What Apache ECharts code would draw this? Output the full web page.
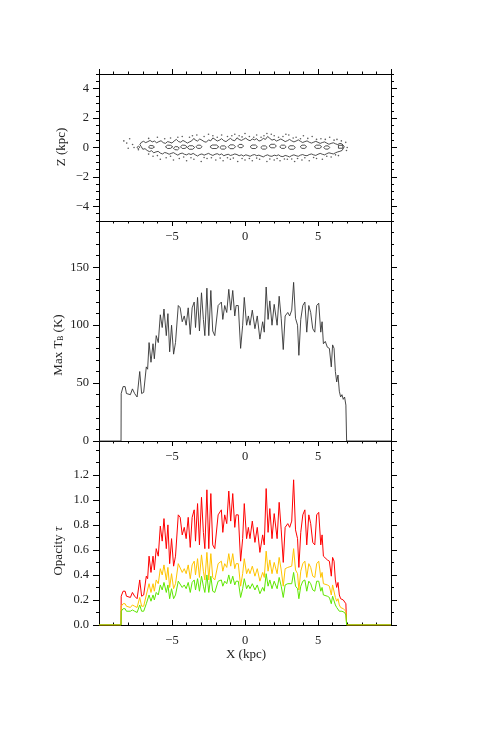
<!DOCTYPE html>
<html>
<head>
<meta charset="utf-8">
<script src="https://cdn.jsdelivr.net/npm/echarts@6/dist/echarts.min.js"></script>
<style>
html,body{margin:0;padding:0;background:#fff;}
#chart{width:491px;height:736px;}
</style>
</head>
<body>
<div id="chart"></div>
<script>
// ---------------- data ----------------
const xKpc = [-10,-8.49,-8.48,-8.35,-8.21,-8.12,-7.99,-7.85,-7.71,-7.56,-7.39,-7.21,-7.08,-6.94,-6.76,-6.67,-6.57,-6.44,-6.30,-6.21,-6.08,-5.94,-5.80,-5.67,-5.55,-5.39,-5.28,-5.16,-5.03,-4.89,-4.76,-4.57,-4.44,-4.30,-4.16,-4.03,-3.89,-3.75,-3.62,-3.48,-3.39,-3.25,-3.12,-2.98,-2.85,-2.75,-2.61,-2.48,-2.34,-2.21,-2.07,-1.98,-1.84,-1.71,-1.62,-1.52,-1.39,-1.25,-1.11,-0.98,-0.84,-0.70,-0.61,-0.46,-0.30,-0.16,-0.05,0.11,0.23,0.34,0.50,0.68,0.84,1.02,1.21,1.32,1.45,1.58,1.70,1.85,2.00,2.20,2.34,2.48,2.62,2.75,2.93,3.06,3.20,3.33,3.46,3.60,3.69,3.82,3.96,4.10,4.23,4.37,4.50,4.64,4.78,4.91,5.05,5.19,5.28,5.37,5.50,5.64,5.78,5.91,6.00,6.10,6.19,6.28,6.37,6.46,6.55,6.64,6.73,6.82,6.91,6.96,10];
const maxTB = [0,0,41,47,47,41,42,40,45,41,38,60,41,42,64,62,85,68,84,71,91,85,109,98,114,91,110,77,100,75,85,117,115,103,108,100,115,92,115,120,98,124,95,128,105,91,132,91,130,95,91,90,117,116,120,105,117,111,131,113,130,108,117,117,80,100,124,100,108,100,113,97,108,88,103,94,133,105,121,100,118,100,125,106,79,108,111,108,113,137,106,100,74,105,117,120,94,117,111,97,94,117,119,94,103,84,86,81,80,64,83,80,60,51,57,43,38,40,36,38,31,0,0];
const tauRed = [0,0,0.23,0.27,0.27,0.23,0.24,0.22,0.26,0.23,0.21,0.36,0.23,0.24,0.39,0.37,0.55,0.42,0.55,0.44,0.61,0.55,0.79,0.67,0.85,0.61,0.80,0.49,0.69,0.47,0.55,0.88,0.86,0.72,0.78,0.69,0.86,0.62,0.86,0.92,0.67,0.97,0.64,1.02,0.74,0.61,1.08,0.61,1.05,0.64,0.61,0.60,0.88,0.87,0.92,0.74,0.88,0.81,1.07,0.83,1.05,0.78,0.88,0.88,0.51,0.69,0.97,0.69,0.78,0.69,0.83,0.66,0.78,0.58,0.72,0.64,1.09,0.74,0.93,0.69,0.89,0.69,0.98,0.76,0.50,0.78,0.81,0.78,0.83,1.16,0.76,0.69,0.46,0.74,0.88,0.92,0.64,0.88,0.81,0.66,0.64,0.88,0.90,0.64,0.72,0.55,0.56,0.52,0.51,0.39,0.54,0.51,0.36,0.30,0.34,0.24,0.21,0.22,0.20,0.21,0.17,0,0];
const tauOrange = [0,0,0.15,0.17,0.17,0.15,0.15,0.14,0.16,0.15,0.14,0.22,0.15,0.15,0.24,0.23,0.33,0.26,0.33,0.27,0.36,0.33,0.45,0.40,0.48,0.36,0.46,0.30,0.41,0.29,0.33,0.49,0.48,0.42,0.45,0.41,0.48,0.37,0.48,0.51,0.40,0.53,0.38,0.56,0.43,0.36,0.58,0.36,0.57,0.38,0.36,0.36,0.49,0.49,0.51,0.43,0.49,0.46,0.57,0.47,0.57,0.45,0.49,0.49,0.31,0.41,0.53,0.41,0.45,0.41,0.47,0.39,0.45,0.35,0.42,0.38,0.59,0.43,0.52,0.41,0.50,0.41,0.54,0.44,0.31,0.45,0.46,0.45,0.47,0.61,0.44,0.41,0.28,0.43,0.49,0.51,0.38,0.49,0.46,0.39,0.38,0.49,0.51,0.38,0.42,0.33,0.34,0.32,0.31,0.24,0.32,0.31,0.22,0.19,0.21,0.16,0.14,0.14,0.13,0.14,0.11,0,0];
const tauGreen = [0,0,0.11,0.13,0.13,0.11,0.11,0.11,0.12,0.11,0.10,0.16,0.11,0.11,0.17,0.17,0.24,0.19,0.24,0.20,0.26,0.24,0.32,0.28,0.34,0.26,0.32,0.21,0.29,0.21,0.24,0.35,0.34,0.30,0.32,0.29,0.34,0.26,0.34,0.36,0.28,0.37,0.27,0.39,0.31,0.26,0.40,0.26,0.39,0.27,0.26,0.26,0.35,0.34,0.36,0.31,0.35,0.33,0.40,0.33,0.39,0.32,0.35,0.35,0.22,0.29,0.37,0.29,0.32,0.29,0.33,0.28,0.32,0.25,0.30,0.27,0.41,0.31,0.36,0.29,0.35,0.29,0.38,0.31,0.22,0.32,0.33,0.32,0.33,0.42,0.31,0.29,0.21,0.31,0.35,0.36,0.27,0.35,0.33,0.28,0.27,0.35,0.35,0.27,0.30,0.24,0.24,0.23,0.22,0.17,0.23,0.22,0.16,0.14,0.15,0.11,0.10,0.11,0.10,0.10,0.08,0,0];

// contour of the disk in the X-Z plane (kpc)
const upperEdge = [[-7.1,0.05],[-7.2,0.2],[-7.1,0.35],[-6.95,0.42],[-6.8,0.33],[-6.65,0.4],[-6.5,0.48],[-6.35,0.38],[-6.2,0.44],[-6.05,0.32],[-5.9,0.4],[-5.75,0.46],[-5.6,0.33],[-5.45,0.28],[-5.3,0.4],[-5.15,0.36],[-5.0,0.3],[-4.85,0.45],[-4.7,0.55],[-4.55,0.4],[-4.4,0.36],[-4.25,0.48],[-4.1,0.4],[-3.95,0.3],[-3.8,0.38],[-3.65,0.45],[-3.5,0.62],[-3.4,0.5],[-3.25,0.44],[-3.1,0.58],[-2.95,0.5],[-2.8,0.4],[-2.65,0.36],[-2.5,0.52],[-2.35,0.45],[-2.2,0.65],[-2.05,0.55],[-1.9,0.44],[-1.75,0.5],[-1.6,0.6],[-1.45,0.46],[-1.3,0.4],[-1.15,0.52],[-1.0,0.62],[-0.85,0.5],[-0.7,0.46],[-0.55,0.66],[-0.4,0.55],[-0.25,0.48],[-0.1,0.56],[0.05,0.64],[0.2,0.52],[0.35,0.46],[0.5,0.58],[0.65,0.52],[0.8,0.6],[0.95,0.44],[1.1,0.48],[1.25,0.62],[1.4,0.55],[1.55,0.75],[1.7,0.62],[1.85,0.5],[2.0,0.56],[2.15,0.44],[2.3,0.5],[2.45,0.58],[2.6,0.5],[2.75,0.4],[2.9,0.46],[3.05,0.55],[3.2,0.45],[3.35,0.38],[3.5,0.44],[3.65,0.52],[3.8,0.42],[3.95,0.34],[4.1,0.4],[4.25,0.45],[4.4,0.36],[4.55,0.3],[4.7,0.36],[4.85,0.42],[5.0,0.35],[5.15,0.28],[5.3,0.34],[5.45,0.38],[5.6,0.3],[5.75,0.22],[5.9,0.28],[6.05,0.32],[6.2,0.25],[6.35,0.2],[6.5,0.28],[6.65,0.24],[6.8,0.05]];
const lowerEdge = [[-7.1,0.05],[-7.0,-0.12],[-6.85,-0.08],[-6.7,-0.2],[-6.55,-0.28],[-6.4,-0.22],[-6.25,-0.36],[-6.1,-0.3],[-5.95,-0.26],[-5.8,-0.38],[-5.65,-0.44],[-5.5,-0.34],[-5.35,-0.38],[-5.2,-0.46],[-5.05,-0.4],[-4.9,-0.35],[-4.75,-0.44],[-4.6,-0.52],[-4.45,-0.42],[-4.3,-0.38],[-4.15,-0.46],[-4.0,-0.5],[-3.85,-0.42],[-3.7,-0.48],[-3.55,-0.4],[-3.4,-0.5],[-3.25,-0.58],[-3.1,-0.48],[-2.95,-0.44],[-2.8,-0.52],[-2.65,-0.46],[-2.5,-0.4],[-2.35,-0.48],[-2.2,-0.54],[-2.05,-0.46],[-1.9,-0.42],[-1.75,-0.5],[-1.6,-0.44],[-1.45,-0.56],[-1.3,-0.5],[-1.15,-0.46],[-1.0,-0.54],[-0.85,-0.5],[-0.7,-0.44],[-0.55,-0.48],[-0.4,-0.56],[-0.25,-0.5],[-0.1,-0.58],[0.05,-0.5],[0.2,-0.54],[0.35,-0.6],[0.5,-0.52],[0.65,-0.48],[0.8,-0.56],[0.95,-0.52],[1.1,-0.58],[1.25,-0.64],[1.4,-0.55],[1.55,-0.5],[1.7,-0.58],[1.85,-0.6],[2.0,-0.52],[2.15,-0.56],[2.3,-0.5],[2.45,-0.6],[2.6,-0.62],[2.75,-0.54],[2.9,-0.58],[3.05,-0.64],[3.2,-0.55],[3.35,-0.5],[3.5,-0.56],[3.65,-0.6],[3.8,-0.52],[3.95,-0.48],[4.1,-0.54],[4.25,-0.56],[4.4,-0.48],[4.55,-0.44],[4.7,-0.5],[4.85,-0.54],[5.0,-0.46],[5.15,-0.4],[5.3,-0.46],[5.45,-0.5],[5.6,-0.42],[5.75,-0.36],[5.9,-0.4],[6.05,-0.44],[6.2,-0.36],[6.35,-0.3],[6.5,-0.26],[6.65,-0.2],[6.8,0.05]];
const innerLoops = [
 [[-7.4,0.0],[-7.3,0.1],[-7.2,0.02],[-7.3,-0.08],[-7.4,0.0]],
 [[-6.6,0.05],[-6.5,0.14],[-6.3,0.12],[-6.2,0.03],[-6.35,-0.06],[-6.55,-0.04],[-6.6,0.05]],
 [[-5.45,0.05],[-5.3,0.16],[-5.1,0.15],[-4.95,0.05],[-5.1,-0.06],[-5.3,-0.07],[-5.45,0.05]],
 [[-4.9,-0.05],[-4.78,0.06],[-4.6,0.05],[-4.5,-0.05],[-4.62,-0.16],[-4.8,-0.15],[-4.9,-0.05]],
 [[-4.42,0.05],[-4.3,0.16],[-4.1,0.15],[-3.98,0.05],[-4.1,-0.06],[-4.3,-0.07],[-4.42,0.05]],
 [[-3.95,0],[-3.82,0.12],[-3.58,0.12],[-3.45,0],[-3.58,-0.12],[-3.82,-0.12],[-3.95,0]],
 [[-3.35,0.05],[-3.25,0.16],[-3.05,0.16],[-2.95,0.05],[-3.05,-0.06],[-3.25,-0.06],[-3.35,0.05]],
 [[-2.4,0.05],[-2.25,0.17],[-1.95,0.17],[-1.8,0.05],[-1.95,-0.07],[-2.25,-0.07],[-2.4,0.05]],
 [[-1.72,0],[-1.6,0.11],[-1.4,0.11],[-1.28,0],[-1.4,-0.11],[-1.6,-0.11],[-1.72,0]],
 [[-1.15,0.05],[-1.02,0.18],[-0.78,0.18],[-0.65,0.05],[-0.78,-0.08],[-1.02,-0.08],[-1.15,0.05]],
 [[-0.5,0.1],[-0.4,0.21],[-0.2,0.21],[-0.1,0.1],[-0.2,-0.01],[-0.4,-0.01],[-0.5,0.1]],
 [[0.35,0.05],[0.48,0.17],[0.72,0.17],[0.85,0.05],[0.72,-0.07],[0.48,-0.07],[0.35,0.05]],
 [[1.08,0],[1.2,0.11],[1.4,0.11],[1.52,0],[1.4,-0.11],[1.2,-0.11],[1.08,0]],
 [[1.65,0.1],[1.78,0.22],[2.02,0.22],[2.15,0.1],[2.02,-0.02],[1.78,-0.02],[1.65,0.1]],
 [[2.38,0.05],[2.5,0.16],[2.7,0.16],[2.82,0.05],[2.7,-0.06],[2.5,-0.06],[2.38,0.05]],
 [[2.95,0],[3.08,0.12],[3.32,0.12],[3.45,0],[3.32,-0.12],[3.08,-0.12],[2.95,0]],
 [[3.78,0.05],[3.9,0.16],[4.1,0.16],[4.22,0.05],[4.1,-0.06],[3.9,-0.06],[3.78,0.05]],
 [[4.75,0.05],[4.88,0.16],[5.12,0.16],[5.25,0.05],[5.12,-0.06],[4.88,-0.06],[4.75,0.05]],
 [[5.4,0],[5.5,0.11],[5.7,0.11],[5.8,0],[5.7,-0.11],[5.5,-0.11],[5.4,0]],
 [[6.4,-0.05],[6.4,0.15],[6.7,0.15],[6.7,-0.05],[6.4,-0.05]]
];
const sparseDots = [[-8.3,0.45],[-8.1,0.3],[-7.9,0.6],[-7.7,0.2],[-6.6,0.62],[-6.0,0.7],[-5.5,0.6],[-5.1,0.65],[-4.6,0.7],[-4.3,0.75],[-3.8,0.7],[-3.6,0.8],[-3.3,0.85],[-2.8,0.75],[-2.5,0.9],[-2.2,0.8],[-1.9,0.7],[-1.6,0.85],[-1.2,0.75],[-0.9,0.8],[-0.7,0.9],[-0.4,0.8],[-0.2,0.72],[0.0,0.95],[0.3,0.75],[0.6,0.7],[0.8,0.85],[1.1,0.7],[1.3,0.8],[1.5,0.95],[1.8,0.9],[2.0,0.8],[2.3,0.7],[2.6,0.75],[2.8,0.9],[3.0,0.85],[3.3,0.65],[3.5,0.7],[3.8,0.6],[4.0,0.8],[4.3,0.62],[4.6,0.75],[4.9,0.55],[5.2,0.6],[5.5,0.55],[5.8,0.7],[6.1,0.5],[6.3,0.55],[6.6,0.45],[6.9,0.35],[7.0,0.0],[6.95,-0.2],
 [-8.0,-0.05],[-7.6,0.0],[-7.3,-0.15],[-6.6,-0.45],[-6.3,-0.6],[-6.0,-0.55],[-5.8,-0.8],[-5.4,-0.7],[-5.1,-0.6],[-4.9,-0.85],[-4.5,-0.75],[-4.2,-0.65],[-4.0,-0.9],[-3.7,-0.7],[-3.5,-0.8],[-3.0,-0.95],[-2.8,-0.68],[-2.6,-0.75],[-2.3,-0.7],[-2.0,-0.85],[-1.7,-0.72],[-1.5,-0.9],[-1.2,-0.7],[-1.0,-0.8],[-0.8,-0.72],[-0.5,-0.95],[-0.2,-0.75],[0.0,-0.85],[0.3,-0.75],[0.5,-0.9],[0.8,-0.72],[1.0,-0.8],[1.5,-0.95],[1.7,-0.78],[2.0,-0.85],[2.2,-0.75],[2.4,-0.9],[2.7,-0.78],[2.9,-0.8],[3.2,-0.78],[3.4,-0.95],[3.6,-0.75],[3.9,-0.85],[4.1,-0.7],[4.4,-0.9],[4.7,-0.68],[4.9,-0.75],[5.3,-0.8],[5.6,-0.6],[5.9,-0.65],[6.2,-0.5],[6.4,-0.55]];

// tick labels
const xLabelValues = [-5, 0, 5];
const zLabelValues = [-4, -2, 0, 2, 4];
const tbLabelValues = [0, 50, 100, 150];
const tauLabelValues = [0, 0.2, 0.4, 0.6, 0.8, 1.0, 1.2];

// ---------------- chart ----------------
const FONT = 'Liberation Serif';
const AX = '#000';
const TXT = '#222';
const signed = (v) => (v < 0 ? '\u2212' + (-v) : String(v));

function xAx(gridIndex, position, labels, ticks, inside) {
  return {
    type: 'value', gridIndex, position, min: -10, max: 10, interval: 5,
    axisLine: { show: true, onZero: false, lineStyle: { color: AX, width: 1 } },
    axisTick: { show: ticks, inside: inside, length: 5, lineStyle: { color: AX, width: 1 } },
    minorTick: { show: ticks, splitNumber: 5, length: 2.5, lineStyle: { color: AX, width: 1 } },
    splitLine: { show: false }, minorSplitLine: { show: false },
    axisLabel: { show: labels, customValues: xLabelValues, formatter: signed, margin: 9,
      color: TXT, fontFamily: FONT, fontSize: 12.5 }
  };
}
function yMajor(gridIndex, position, min, max, vals, labels, fmt) {
  return {
    type: 'value', gridIndex, position, min, max,
    axisLine: { show: true, onZero: false, lineStyle: { color: AX, width: 1 } },
    axisTick: { show: true, length: 6, customValues: vals, lineStyle: { color: AX, width: 1 } },
    splitLine: { show: false },
    axisLabel: { show: labels, customValues: vals, formatter: fmt, margin: 10,
      color: TXT, fontFamily: FONT, fontSize: 12.5 }
  };
}
function yMinor(gridIndex, position, min, max, step) {
  return {
    type: 'value', gridIndex, position, min, max, interval: step,
    axisLine: { show: false, onZero: false },
    axisTick: { show: true, length: 3, lineStyle: { color: AX, width: 1 } },
    splitLine: { show: false },
    axisLabel: { show: false }
  };
}

const chart = echarts.init(document.getElementById('chart'), null, { renderer: 'canvas' });

const option = {
  backgroundColor: '#fff',
  animation: false,
  grid: [
    { left: 99, right: 100, top: 74, height: 147 },
    { left: 99, right: 100, top: 221, height: 220 },
    { left: 99, right: 100, top: 441, height: 184 }
  ],
  xAxis: [
    xAx(0, 'bottom', true, true, false),
    xAx(0, 'top', false, true, false),
    xAx(1, 'bottom', true, true, false),
    xAx(1, 'top', false, false, false),
    xAx(2, 'bottom', true, true, true),
    xAx(2, 'top', false, false, false)
  ],
  yAxis: [
    yMajor(0, 'left', -5, 5, zLabelValues, true, signed),
    yMinor(0, 'left', -5, 5, 0.5),
    yMajor(0, 'right', -5, 5, zLabelValues, false, signed),
    yMinor(0, 'right', -5, 5, 0.5),
    yMajor(1, 'left', 0, 190, tbLabelValues, true, (v) => String(v)),
    yMinor(1, 'left', 0, 190, 10),
    yMajor(1, 'right', 0, 190, tbLabelValues, false, (v) => String(v)),
    yMinor(1, 'right', 0, 190, 10),
    yMajor(2, 'left', 0, 1.47, tauLabelValues, true, (v) => v.toFixed(1)),
    yMinor(2, 'left', 0, 1.47, 0.1),
    yMajor(2, 'right', 0, 1.47, tauLabelValues, false, (v) => v.toFixed(1)),
    yMinor(2, 'right', 0, 1.47, 0.1)
  ],
  series: [
    {
      type: 'lines', coordinateSystem: 'cartesian2d', xAxisIndex: 0, yAxisIndex: 0,
      polyline: true, silent: true,
      lineStyle: { color: '#222', width: 0.8, opacity: 1 },
      data: [{ coords: upperEdge }, { coords: lowerEdge }].concat(innerLoops.map(p => ({ coords: p })))
    },
    {
      type: 'scatter', xAxisIndex: 0, yAxisIndex: 0, symbol: 'circle', symbolSize: 1.6,
      itemStyle: { color: '#333' }, silent: true,
      data: sparseDots
    },
    {
      type: 'line', xAxisIndex: 2, yAxisIndex: 4, showSymbol: false, symbol: 'none',
      lineStyle: { color: '#333', width: 0.9 },
      data: xKpc.map((x, i) => [x, maxTB[i]])
    },
    {
      type: 'line', xAxisIndex: 4, yAxisIndex: 8, showSymbol: false, symbol: 'none',
      lineStyle: { color: '#ff0000', width: 1 },
      data: xKpc.map((x, i) => [x, tauRed[i]])
    },
    {
      type: 'line', xAxisIndex: 4, yAxisIndex: 8, showSymbol: false, symbol: 'none',
      lineStyle: { color: '#ffc400', width: 1 },
      data: xKpc.map((x, i) => [x, tauOrange[i]])
    },
    {
      type: 'line', xAxisIndex: 4, yAxisIndex: 8, showSymbol: false, symbol: 'none',
      lineStyle: { color: '#5ee600', width: 1 },
      data: xKpc.map((x, i) => [x, tauGreen[i]])
    }
  ],
  graphic: [
    { type: 'text', x: 62, y: 147, rotation: Math.PI / 2,
      style: { text: 'Z (kpc)', x: 0, y: 0, align: 'center', verticalAlign: 'middle',
        font: '13px "Liberation Serif"', fill: TXT } },
    { type: 'text', x: 58, y: 345, rotation: Math.PI / 2,
      style: { text: '{n|Max T}{s|B}{n| (K)}', x: 0, y: 0, align: 'center', verticalAlign: 'middle',
        fill: TXT,
        rich: {
          n: { fontFamily: FONT, fontSize: 13, lineHeight: 14, verticalAlign: 'bottom', fill: TXT },
          s: { fontFamily: FONT, fontSize: 7.5, lineHeight: 6, verticalAlign: 'bottom', fill: TXT }
        } } },
    { type: 'text', x: 59, y: 551, rotation: Math.PI / 2,
      style: { text: '{n|Opacity }{t|\u03c4}', x: 0, y: 0, align: 'center', verticalAlign: 'middle',
        fill: TXT,
        rich: {
          n: { fontFamily: FONT, fontSize: 13, fill: TXT },
          t: { fontFamily: FONT, fontSize: 13, fontStyle: 'italic', fill: TXT }
        } } },
    { type: 'text', x: 246, y: 655,
      style: { text: 'X (kpc)', x: 0, y: 0, align: 'center', verticalAlign: 'middle',
        font: '13px "Liberation Serif"', fill: TXT } }
  ]
};
chart.setOption(option);
</script>
</body>
</html>
